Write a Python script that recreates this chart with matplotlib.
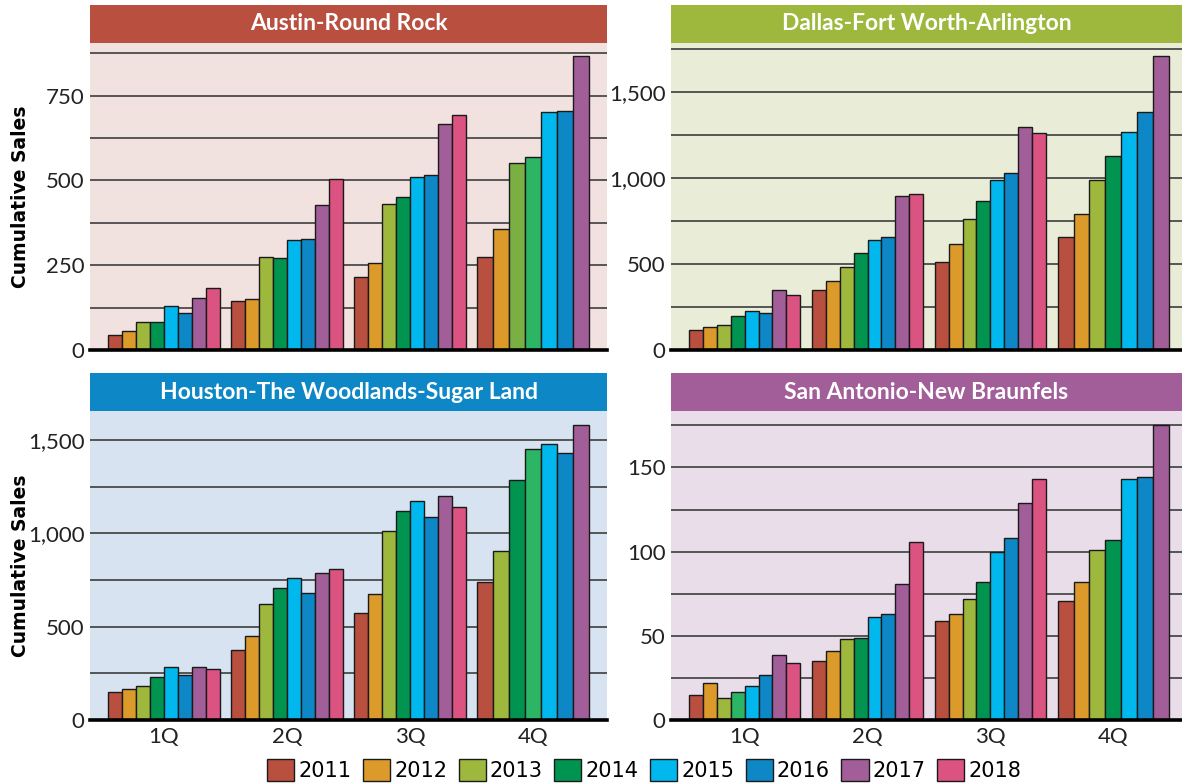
import numpy as np
import matplotlib.pyplot as plt
from matplotlib.patches import Rectangle, Patch

# ------------------------------------------------------------
# Data
# ------------------------------------------------------------
years = ["2011", "2012", "2013", "2014", "2015", "2016", "2017", "2018"]
quarters = ["1Q", "2Q", "3Q", "4Q"]

austin = [
    [43, 55, 84, 82, 131, 108, 152, 182],
    [143, 150, 274, 272, 324, 328, 427, 503],
    [216, 255, 429, 450, 510, 517, 665, 692],
    [275, 358, 552, 568, 702, 704, 867],
]
dallas = [
    [118, 132, 143, 196, 227, 217, 347, 318],
    [347, 399, 484, 564, 638, 655, 895, 907],
    [510, 618, 762, 868, 988, 1031, 1295, 1264],
    [655, 791, 986, 1128, 1269, 1386, 1709],
]
houston = [
    [152, 164, 180, 230, 282, 239, 282, 271],
    [375, 448, 620, 707, 759, 682, 789, 809],
    [575, 677, 1011, 1120, 1175, 1086, 1198, 1139],
    [739, 904, 1284, 1450, 1477, 1429, 1579],
]
san_antonio = [
    [14.8, 21.8, 12.9, 16.8, 20, 26.7, 38.8, 33.9],
    [34.8, 41, 47.9, 48.9, 61, 62.8, 81, 105.9],
    [59, 63, 71.9, 82, 100, 107.9, 128.7, 142.9],
    [70.9, 82, 100.8, 106.9, 142.9, 144.1, 175],
]

# ------------------------------------------------------------
# Style
# ------------------------------------------------------------
RED, ORANGE, LGREEN, DGREEN = "#b94f3f", "#dc9a2a", "#9db83c", "#009450"
CYAN, BLUE, PURPLE, PINK = "#00b7ee", "#0e87c6", "#a25e98", "#db5380"
MGREEN, OGREEN = "#2bb565", "#7aaf43"
base_colors = [RED, ORANGE, LGREEN, DGREEN, CYAN, BLUE, PURPLE, PINK]

panels = [
    dict(name="Austin-Round Rock", data=austin, head=RED, bg="#f2e2df",
         ylim=905, major=[0, 250, 500, 750], minor=125,
         override={(3, 2): OGREEN, (3, 3): MGREEN}),
    dict(name="Dallas-Fort Worth-Arlington", data=dallas, head=LGREEN, bg="#e9edd8",
         ylim=1785, major=[0, 500, 1000, 1500], minor=250, override={}),
    dict(name="Houston-The Woodlands-Sugar Land", data=houston, head=BLUE, bg="#d7e3f1",
         ylim=1655, major=[0, 500, 1000, 1500], minor=250,
         override={(3, 1): LGREEN, (3, 2): DGREEN, (3, 3): MGREEN}),
    dict(name="San Antonio-New Braunfels", data=san_antonio, head=PURPLE, bg="#e8dde9",
         ylim=183.5, major=[0, 50, 100, 150], minor=25,
         override={(0, 3): MGREEN}),
]

W, H = 1182, 784
fig = plt.figure(figsize=(W / 100, H / 100), dpi=100)

# axes boxes in pixels: (left, top, right, bottom)
boxes = [(90, 43, 607, 350), (671, 43, 1182, 350),
         (90, 411, 607, 720), (671, 411, 1182, 720)]
xlims = [(-0.6, 3.6), (-0.6, 3.56), (-0.6, 3.6), (-0.6, 3.56)]
group_w = 0.905
head_h = 38

tick_font = "Lato"
narrow = ["Liberation Sans Narrow", "DejaVu Sans"]

for i, (p, b) in enumerate(zip(panels, boxes)):
    l, t, r, bt = b
    ax = fig.add_axes([l / W, (H - bt) / H, (r - l) / W, (bt - t) / H])
    ax.set_facecolor(p["bg"])

    for q, vals in enumerate(p["data"]):
        n = len(vals)
        w = group_w / n
        xs = q - group_w / 2 + w / 2 + np.arange(n) * w
        cols = [p["override"].get((q, k), base_colors[k]) for k in range(n)]
        ax.bar(xs, vals, width=w, color=cols, edgecolor="#1a1a1a",
               linewidth=1.0, zorder=3)

    ax.set_xlim(*xlims[i])
    ax.set_ylim(0, p["ylim"])
    ax.set_yticks(p["major"])
    ax.set_yticklabels([f"{v:,}" for v in p["major"]], fontsize=16,
                       family=tick_font, color="#222222")
    ax.set_yticks(np.arange(0, p["ylim"], p["minor"]), minor=True)
    ax.grid(True, axis="y", which="both", color="#4a4a4a", linewidth=1.3, zorder=0)
    ax.set_axisbelow(True)
    ax.tick_params(axis="y", which="both", length=0, pad=4)

    for s in ["top", "right", "left"]:
        ax.spines[s].set_visible(False)
    ax.spines["bottom"].set_linewidth(2.6)
    ax.spines["bottom"].set_color("black")
    ax.spines["bottom"].set_zorder(5)

    ax.set_xticks(range(4))
    if i >= 2:
        ax.set_xticklabels(quarters, fontsize=16, family=tick_font, color="#222222")
        ax.tick_params(axis="x", length=0, pad=5)
    else:
        ax.set_xticklabels([])
        ax.tick_params(axis="x", length=0)

    if i % 2 == 0:
        ax.set_ylabel("Cumulative Sales", fontsize=13.5, fontweight="bold",
                      family="DejaVu Sans")
        # label's right edge ~30 px from the figure's left edge
        ax.yaxis.set_label_coords((30 - l) / (r - l), 0.5)

    # coloured header bar above the plot
    hh = head_h / (bt - t)
    ax.add_patch(Rectangle((0, 1), 1, hh, transform=ax.transAxes,
                           facecolor=p["head"], edgecolor="none", clip_on=False))
    ax.text(0.5, 1 + hh / 2, p["name"], transform=ax.transAxes, ha="center",
            va="center", color="white", fontsize=16.5, fontweight="bold",
            family="Lato")

handles = [Patch(facecolor=c, edgecolor="#1a1a1a", linewidth=1.0) for c in base_colors]
fig.legend(handles, years, loc="center", bbox_to_anchor=(0.545, 1 - 770 / H),
           ncol=8, frameon=False, handlelength=1.3, handleheight=1.3,
           handletextpad=0.2, columnspacing=0.55,
           prop={"family": narrow, "size": 15})

fig.savefig("out.png", dpi=100)
